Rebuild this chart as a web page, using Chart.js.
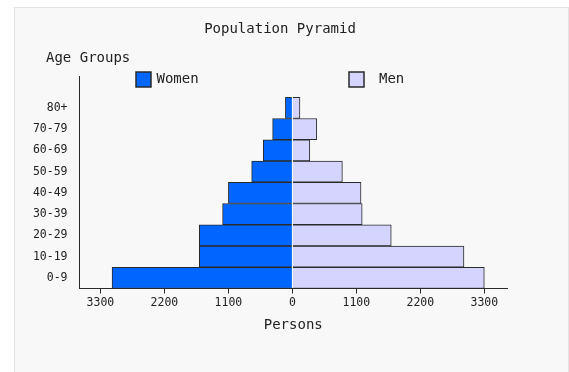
<!DOCTYPE html>
<html>
<head>
<meta charset="utf-8">
<title>Population Pyramid</title>
<script src="https://cdn.jsdelivr.net/npm/chart.js@4.4.1/dist/chart.umd.min.js"></script>
<style>
    html, body { margin: 0; padding: 0; background: #ffffff; overflow: hidden; }
    #panel {
        position: absolute; left: 14px; top: 7px;
        width: 553px; height: 400px;
        background: #f8f8f8;
        border: 1px solid #e3e3e3;
    }
    #pyramid { position: absolute; left: 0; top: 0; }
</style>
</head>
<body>
<div id="panel"></div>
<canvas id="pyramid" width="569" height="372"></canvas>
<script>
// age bands, bottom to top
const ageGroups = ['0-9', '10-19', '20-29', '30-39', '40-49', '50-59', '60-69', '70-79', '80+'];
const women = [3100, 1600, 1600, 1200, 1100, 700, 500, 340, 120];
const men = [3300, 2950, 1700, 1200, 1180, 860, 300, 420, 130];
const personTicks = [-3300, -2200, -1100, 0, 1100, 2200, 3300];

const FONT = '"DejaVu Sans Mono", monospace';
const INK = '#222222';

// an empty band on top leaves room for the legend inside the plot
const bandLabels = [...ageGroups, ''];

// title, "Age Groups" heading and the legend boxes, drawn over the plot
const pyramidDecor = {
    id: 'pyramidDecor',
    afterDraw( chart ) {
        const ctx = chart.ctx;
        const area = chart.chartArea;
        ctx.save();
        ctx.font = '14px ' + FONT;
        ctx.fillStyle = INK;
        ctx.textBaseline = 'middle';

        ctx.textAlign = 'center';
        ctx.fillText('Population Pyramid', 280, 29);

        ctx.textAlign = 'left';
        ctx.fillText('Age Groups', 46, 58.5);

        const items = [
            { ds: chart.data.datasets[0], x: area.left + 56.5, gap: 5.5 },
            { ds: chart.data.datasets[1], x: area.left + 269.5, gap: 15 }
        ];
        items.forEach( (it) => {
            ctx.fillStyle = it.ds.backgroundColor;
            ctx.fillRect(it.x, 72, 15, 15);
            ctx.strokeStyle = '#2a2a2a';
            ctx.lineWidth = 1.5;
            ctx.strokeRect(it.x, 72, 15, 15);
            ctx.fillStyle = INK;
            ctx.fillText(it.ds.label, it.x + 15 + it.gap, 79.5);
        });
        ctx.restore();
    }
};

const config = {
    type: 'bar',
    data: {
        labels: bandLabels,
        datasets: [{
            label: 'Women',
            data: women.map( v => -v ),
            backgroundColor: '#0066ff',
            borderColor: '#2a2a2a',
            borderWidth: 1,
            barPercentage: 1,
            categoryPercentage: 1
        }, {
            label: 'Men',
            data: men,
            backgroundColor: '#d4d4ff',
            borderColor: '#2a2a2a',
            borderWidth: 1,
            barPercentage: 1,
            categoryPercentage: 1
        }]
    },
    options: {
        indexAxis: 'y',
        responsive: false,
        animation: false,
        layout: { padding: { left: 0, right: 62, top: 76, bottom: 33.5 } },
        plugins: {
            legend: { display: false },
            tooltip: { enabled: false },
            title: { display: false }
        },
        scales: {
            x: {
                stacked: true,
                min: -3660,
                max: 3690,
                afterBuildTicks: (scale) => {
                    scale.ticks = personTicks.map( v => ({ value: v }) );
                },
                afterFit: (scale) => { scale.height = 50; },
                grid: {
                    display: true,
                    drawOnChartArea: false,
                    drawTicks: true,
                    tickLength: 5,
                    color: '#2a2a2a'
                },
                border: { display: true, color: '#2a2a2a', width: 1 },
                ticks: {
                    color: INK,
                    padding: 3,
                    maxRotation: 0,
                    font: { family: FONT, size: 11.5 },
                    callback: (v) => Math.abs(v)
                },
                title: {
                    display: true,
                    text: 'Persons',
                    color: INK,
                    font: { family: FONT, size: 14 },
                    padding: { top: 0, bottom: 5 }
                }
            },
            y: {
                stacked: true,
                reverse: true,
                afterFit: (scale) => { scale.width = 79.5; },
                grid: { display: false, drawTicks: false, tickLength: 0 },
                border: { display: true, color: '#2a2a2a', width: 1 },
                ticks: {
                    color: INK,
                    padding: 12,
                    autoSkip: false,
                    font: { family: FONT, size: 11.5 }
                }
            }
        }
    },
    plugins: [pyramidDecor]
};

new Chart(document.getElementById('pyramid'), config);
</script>
</body>
</html>
